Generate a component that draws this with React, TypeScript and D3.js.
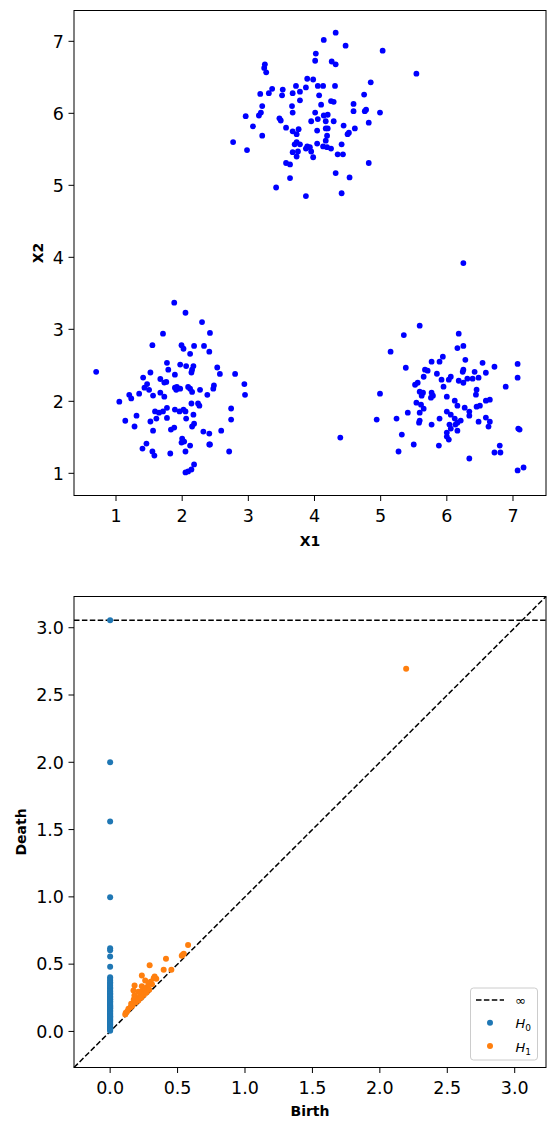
import React from 'react';
import * as d3 from 'd3';

// three blobs, [x1, x2]
const blobTop = [
  [4.32, 7.12], [4.14, 7.02], [4.47, 6.94], [5.03, 6.87], [4.02, 6.83], [4.01, 6.73], [4.26, 6.72],
  [4.32, 6.68], [3.25, 6.68], [3.24, 6.63], [3.27, 6.57], [5.54, 6.55], [3.89, 6.48], [3.98, 6.47],
  [4.85, 6.43], [3.72, 6.38], [3.87, 6.36], [4.05, 6.38], [4.13, 6.38], [4.31, 6.38], [3.36, 6.34],
  [3.31, 6.28], [3.52, 6.33], [3.18, 6.27], [3.51, 6.25], [3.67, 6.28], [3.78, 6.30], [4.07, 6.25],
  [4.75, 6.26], [3.78, 6.18], [4.25, 6.17], [4.29, 6.16], [4.10, 6.12], [4.59, 6.13], [3.21, 6.10],
  [3.66, 6.10], [3.19, 6.01], [3.16, 5.97], [3.67, 6.01], [4.01, 6.01], [4.59, 6.03], [4.76, 6.03],
  [4.78, 6.05], [4.99, 6.01], [2.96, 5.96], [4.14, 5.97], [4.20, 5.98], [3.47, 5.93], [3.49, 5.90],
  [3.95, 5.89], [4.05, 5.92], [4.17, 5.89], [4.29, 5.89], [4.82, 5.87], [3.07, 5.82], [3.57, 5.80],
  [3.76, 5.78], [3.67, 5.75], [4.04, 5.76], [4.17, 5.79], [4.20, 5.79], [4.44, 5.83], [4.61, 5.79],
  [3.21, 5.69], [3.73, 5.71], [4.19, 5.69], [4.52, 5.73], [4.50, 5.71], [2.77, 5.60], [2.98, 5.49],
  [4.17, 5.62], [3.70, 5.57], [3.73, 5.60], [3.78, 5.57], [4.04, 5.58], [3.89, 5.54], [3.93, 5.53],
  [3.87, 5.51], [4.13, 5.54], [4.19, 5.53], [4.25, 5.51], [4.41, 5.57], [3.67, 5.46], [3.75, 5.47],
  [3.95, 5.47], [3.73, 5.40], [4.35, 5.43], [4.43, 5.43], [3.98, 5.39], [3.57, 5.31], [3.63, 5.29],
  [4.82, 5.31], [4.32, 5.17], [4.53, 5.11], [3.63, 5.10], [3.42, 4.97], [3.87, 4.85], [4.41, 4.89],
];

const blobLeft = [
  [1.88, 3.37], [2.05, 3.23], [2.30, 3.10], [2.42, 2.95], [1.71, 2.94], [1.55, 2.78], [1.99, 2.78],
  [2.02, 2.73], [2.18, 2.77], [2.33, 2.77], [2.12, 2.66], [2.41, 2.69], [1.77, 2.535], [1.97, 2.51],
  [2.06, 2.49], [2.17, 2.49], [1.79, 2.44], [2.15, 2.44], [2.14, 2.40], [2.53, 2.47], [2.57, 2.38],
  [2.80, 2.38], [0.70, 2.41], [1.52, 2.40], [1.89, 2.37], [1.41, 2.33], [1.67, 2.31], [1.47, 2.24],
  [1.43, 2.19], [1.50, 2.16], [1.76, 2.27], [1.73, 2.26], [1.89, 2.19], [1.92, 2.20], [1.97, 2.175],
  [1.91, 2.16], [2.09, 2.20], [2.12, 2.175], [2.15, 2.13], [2.27, 2.16], [2.48, 2.22], [2.47, 2.175],
  [2.94, 2.24], [2.95, 2.09], [1.35, 2.106], [1.20, 2.09], [1.23, 2.04], [1.05, 1.995], [1.56, 2.08],
  [1.67, 2.12], [1.73, 2.065], [2.38, 2.09], [2.14, 1.97], [2.24, 1.97], [2.26, 1.94], [2.74, 1.90],
  [1.77, 1.91], [1.59, 1.86], [1.65, 1.843], [1.71, 1.86], [1.89, 1.885], [1.96, 1.86], [2.02, 1.885],
  [2.05, 1.86], [1.31, 1.80], [1.14, 1.73], [1.61, 1.76], [1.77, 1.77], [2.06, 1.76], [2.17, 1.815],
  [1.52, 1.72], [1.28, 1.65], [2.15, 1.65], [2.18, 1.69], [2.74, 1.746], [1.56, 1.593], [1.83, 1.607],
  [1.88, 1.635], [2.32, 1.58], [2.41, 1.552], [2.59, 1.593], [2.00, 1.483], [1.99, 1.427], [2.03, 1.441],
  [2.12, 1.386], [2.41, 1.40], [2.42, 1.40], [1.46, 1.413], [1.40, 1.344], [1.55, 1.303], [1.58, 1.247],
  [1.82, 1.275], [2.05, 1.303], [2.71, 1.303], [2.18, 1.123], [2.14, 1.053], [2.09, 1.026], [2.05, 1.012],
];

const blobRight = [
  [6.25, 3.92], [5.59, 3.05], [5.35, 2.92], [6.18, 2.94], [5.15, 2.69], [6.16, 2.74], [6.25, 2.77],
  [5.94, 2.62], [5.77, 2.55], [5.89, 2.55], [6.28, 2.577], [6.54, 2.535], [7.07, 2.52], [5.38, 2.466],
  [5.67, 2.44], [5.71, 2.425], [5.85, 2.383], [6.24, 2.41], [6.25, 2.44], [6.42, 2.41], [6.59, 2.397],
  [6.72, 2.48], [5.65, 2.341], [5.92, 2.30], [6.03, 2.30], [6.06, 2.341], [6.18, 2.286], [6.25, 2.258],
  [6.31, 2.314], [6.39, 2.314], [6.48, 2.328], [7.07, 2.328], [5.52, 2.23], [5.56, 2.258], [5.95, 2.203],
  [6.45, 2.161], [6.89, 2.203], [4.99, 2.106], [5.59, 2.134], [5.64, 2.12], [5.62, 2.078], [5.77, 2.12],
  [5.79, 2.078], [5.76, 2.05], [6.00, 2.064], [6.44, 2.092], [6.12, 2.009], [5.54, 1.981], [5.61, 1.954],
  [5.65, 1.898], [6.16, 1.94], [6.27, 1.912], [6.45, 1.926], [6.50, 1.94], [6.59, 2.009], [6.65, 2.023],
  [5.59, 1.843], [5.41, 1.843], [6.00, 1.857], [6.06, 1.815], [6.34, 1.857], [6.34, 1.801], [4.94, 1.746],
  [5.24, 1.76], [5.59, 1.732], [5.58, 1.704], [5.77, 1.677], [5.89, 1.76], [6.12, 1.76], [6.21, 1.732],
  [6.04, 1.677], [6.13, 1.677], [6.16, 1.704], [6.48, 1.718], [6.59, 1.774], [6.65, 1.718], [6.63, 1.649],
  [6.06, 1.621], [6.16, 1.593], [6.00, 1.566], [6.00, 1.51], [6.03, 1.469], [7.08, 1.621], [7.10, 1.607],
  [5.32, 1.538], [4.39, 1.497], [5.50, 1.40], [5.88, 1.386], [5.27, 1.303], [6.80, 1.386], [6.72, 1.289],
  [6.81, 1.289], [6.34, 1.206], [7.07, 1.04], [7.16, 1.081],
];

const scatterTicks = [1, 2, 3, 4, 5, 6, 7];

// persistence diagram: H0 births are all 0, first one never dies
const INF_LEVEL = 3.056;
const h0Death = [
  Infinity, 2.0, 1.56, 0.997, 0.618, 0.604, 0.557, 0.48, 0.403, 0.391, 0.378, 0.366, 0.357, 0.345,
  0.338, 0.327, 0.321, 0.309, 0.301, 0.297, 0.288, 0.281, 0.276, 0.266, 0.259, 0.254, 0.243, 0.239,
  0.233, 0.224, 0.219, 0.213, 0.205, 0.199, 0.192, 0.188, 0.179, 0.173, 0.169, 0.16, 0.155, 0.148,
  0.144, 0.137, 0.131, 0.126, 0.117, 0.112, 0.106, 0.099, 0.094, 0.088, 0.081, 0.077, 0.07, 0.064,
  0.058, 0.051, 0.047, 0.04, 0.034, 0.029, 0.022, 0.016, 0.011, 0.006,
];
const h1Pairs = [
  [2.195, 2.695], [0.578, 0.643], [0.546, 0.577], [0.531, 0.562], [0.538, 0.569], [0.414, 0.54],
  [0.293, 0.492], [0.397, 0.458], [0.454, 0.458], [0.235, 0.416], [0.33, 0.408], [0.342, 0.391],
  [0.323, 0.396], [0.26, 0.379], [0.3, 0.37], [0.285, 0.36], [0.31, 0.35], [0.181, 0.342],
  [0.235, 0.336], [0.275, 0.33], [0.25, 0.32], [0.173, 0.305], [0.21, 0.295], [0.24, 0.3],
  [0.26, 0.31], [0.225, 0.28], [0.18, 0.267], [0.22, 0.26], [0.25, 0.27], [0.2, 0.24],
  [0.175, 0.237], [0.156, 0.206], [0.19, 0.215], [0.21, 0.23], [0.165, 0.19], [0.136, 0.168],
  [0.152, 0.18], [0.116, 0.139], [0.112, 0.126], [0.128, 0.15], [0.27, 0.29], [0.29, 0.31],
  [0.23, 0.25],
];
const pdTicks = [0, 0.5, 1, 1.5, 2, 2.5, 3];

const FONT = 'DejaVu Sans';
const L = 74, R = 546;

const App = () => {
  // top scatter
  const top = 10.5, bottom = 495.5;
  const x = d3.scaleLinear().domain([0.365, 7.499]).range([L, R]);
  const y = d3.scaleLinear().domain([0.692, 7.428]).range([bottom, top]);
  const pts = [...blobTop, ...blobLeft, ...blobRight];

  // bottom persistence diagram
  const pTop = 596.5, pBot = 1067.5;
  const px = d3.scaleLinear().domain([-0.268, 3.232]).range([L, R]);
  const py = d3.scaleLinear().domain([-0.268, 3.232]).range([pBot, pTop]);
  const fmt = d3.format('.1f');
  const dash = '5.5,2.4';

  return (
    <svg width={555} height={1129} style={{ position: 'absolute', left: 0, top: 0, background: '#fff' }}
      fontFamily={FONT}>
      {/* scatter */}
      <g>
        {pts.map((d, i) => (
          <circle key={i} cx={x(d[0])} cy={y(d[1])} r={2.9} fill="blue" />
        ))}
        <rect x={L} y={top} width={R - L} height={bottom - top} fill="none" stroke="#000" strokeWidth={1} />
        {scatterTicks.map(t => (
          <g key={'x' + t}>
            <line x1={x(t)} x2={x(t)} y1={bottom} y2={bottom + 5.5} stroke="#000" />
            <text x={x(t)} y={bottom + 26.5} textAnchor="middle" fontSize={17.5}>{t}</text>
          </g>
        ))}
        {scatterTicks.map(t => (
          <g key={'y' + t}>
            <line x1={L - 5.5} x2={L} y1={y(t)} y2={y(t)} stroke="#000" />
            <text x={L - 10} y={y(t)} dy="0.36em" textAnchor="end" fontSize={17.5}>{t}</text>
          </g>
        ))}
        <text x={(L + R) / 2} y={546} textAnchor="middle" fontSize={14} fontWeight="bold">X1</text>
        <text transform={`translate(43,${(top + bottom) / 2}) rotate(-90)`} textAnchor="middle"
          fontSize={14} fontWeight="bold">X2</text>
      </g>

      {/* persistence diagram */}
      <g>
        <line x1={px(-0.268)} y1={py(-0.268)} x2={px(3.232)} y2={py(3.232)} stroke="#000"
          strokeWidth={1.5} strokeDasharray={dash} />
        <line x1={L} x2={R} y1={py(INF_LEVEL)} y2={py(INF_LEVEL)} stroke="#000" strokeWidth={1.5}
          strokeDasharray={dash} />
        {h0Death.map((d, i) => (
          <circle key={'h0' + i} cx={px(0)} cy={py(Number.isFinite(d) ? d : INF_LEVEL)} r={3}
            fill="#1f77b4" />
        ))}
        {h1Pairs.map((d, i) => (
          <circle key={'h1' + i} cx={px(d[0])} cy={py(d[1])} r={3} fill="#ff7f0e" />
        ))}
        <rect x={L} y={pTop} width={R - L} height={pBot - pTop} fill="none" stroke="#000" strokeWidth={1} />
        {pdTicks.map(t => (
          <g key={'px' + t}>
            <line x1={px(t)} x2={px(t)} y1={pBot} y2={pBot + 5.5} stroke="#000" />
            <text x={px(t)} y={pBot + 26.5} textAnchor="middle" fontSize={17.5}>{fmt(t)}</text>
          </g>
        ))}
        {pdTicks.map(t => (
          <g key={'py' + t}>
            <line x1={L - 5.5} x2={L} y1={py(t)} y2={py(t)} stroke="#000" />
            <text x={L - 10} y={py(t)} dy="0.36em" textAnchor="end" fontSize={17.5}>{fmt(t)}</text>
          </g>
        ))}
        <text x={(L + R) / 2} y={1116} textAnchor="middle" fontSize={14} fontWeight="bold">Birth</text>
        <text transform={`translate(26,${(pTop + pBot) / 2}) rotate(-90)`} textAnchor="middle"
          fontSize={14} fontWeight="bold">Death</text>

        {/* legend */}
        <g>
          <rect x={470.5} y={988} width={67} height={72} rx={3} fill="#fff" fillOpacity={0.8}
            stroke="#ccc" strokeWidth={1} />
          <line x1={476} x2={504} y1={1000} y2={1000} stroke="#000" strokeWidth={1.5} strokeDasharray={dash} />
          <text x={515} y={1005} fontSize={13}>∞</text>
          <circle cx={490} cy={1022.7} r={3} fill="#1f77b4" />
          <text x={515.5} y={1028} fontSize={13} fontStyle="italic">H<tspan fontSize={9} dy={3} fontStyle="normal">0</tspan></text>
          <circle cx={490} cy={1046} r={3} fill="#ff7f0e" />
          <text x={515.5} y={1051.5} fontSize={13} fontStyle="italic">H<tspan fontSize={9} dy={3} fontStyle="normal">1</tspan></text>
        </g>
      </g>
    </svg>
  );
};

export default App;
